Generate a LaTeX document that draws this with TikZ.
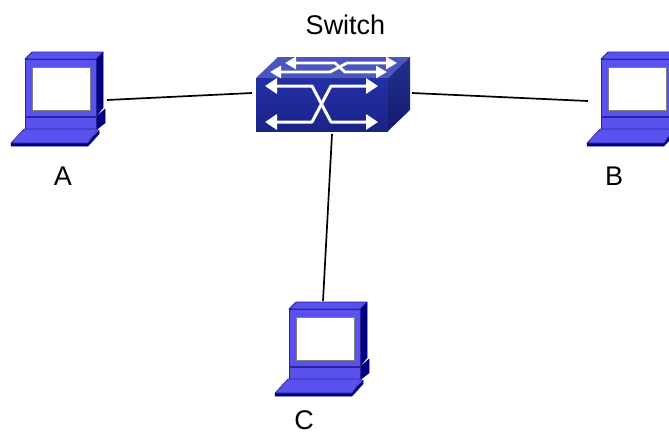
\documentclass[tikz,border=0pt]{standalone}
\usepackage{fontspec}
\setmainfont{Liberation Sans}
\usetikzlibrary{arrows.meta}
\definecolor{pcmain}{HTML}{5A52EE}
\definecolor{pcdark}{HTML}{00007F}
\definecolor{pcedge}{HTML}{2A2298}
\definecolor{swtop}{HTML}{4C57BC}
\definecolor{swfronta}{HTML}{2330A6}
\definecolor{swfrontb}{HTML}{1A2486}
\definecolor{swsidea}{HTML}{24308F}
\definecolor{swsideb}{HTML}{141C6E}
\tikzset{
  lbl/.style={inner sep=0pt,font=\fontsize{27}{27}\selectfont,text=black},
  link/.style={draw=black,line width=1.7pt},
  pcface/.style={fill=pcmain,draw=pcedge,line width=.9pt,line join=round},
  pcside/.style={fill=pcdark,draw=pcdark,line width=.5pt,line join=round},
  warrow/.style={draw=white,line width=3pt,line join=round,{Triangle[length=12pt,width=15pt]}-{Triangle[length=12pt,width=15pt]}},
  warrowt/.style={draw=white,line width=2.8pt,line join=round,{Triangle[length=11pt,width=12pt]}-{Triangle[length=11pt,width=12pt]}},
  pics/computer/.style={code={
    % monitor side and top
    \path[pcside] (71,0) -- (78,-7) -- (78,49) -- (71,57) -- cycle;
    \path[pcface] (0,0) -- (7,-7) -- (78,-7) -- (71,0) -- cycle;
    % base side
    \path[pcside] (71,58) -- (80,50) -- (80,64) -- (71,71) -- cycle;
    % monitor front
    \path[pcface] (0,0) rectangle (71,57);
    \path[fill=white,draw=gray,line width=.9pt] (7,8) rectangle (65,51);
    % base
    \path[pcface] (0,58) rectangle (71,70);
    % keyboard thickness
    \path[pcside] (-14,84) -- (63,84) -- (74,71) -- (74,75) -- (63,87) -- (-14,87) -- cycle;
    % keyboard top
    \path[fill=pcmain,draw=pcedge,line width=.6pt,line join=round] (-1,70) -- (73,70) -- (63,84) -- (-14,84) -- cycle;
  }}
}
\begin{document}
\begin{tikzpicture}[x=1pt,y=-1pt]
\useasboundingbox (0,0) rectangle (669,434);
\clip (0,0) rectangle (669,434);
\fill[white] (0,0) rectangle (669,434);

% connectors
\coordinate (a-port) at (107,100);
\coordinate (sw-w) at (252,93);
\coordinate (sw-e) at (412,93);
\coordinate (b-port) at (588,101);
\coordinate (sw-s) at (332,134);
\coordinate (c-port) at (323,301);
\draw[link] (a-port) -- (sw-w);
\draw[link] (sw-e) -- (b-port);
\draw[link] (sw-s) -- (c-port);

% computers
\pic at (25,59) {computer};
\pic at (601,59) {computer};
\pic at (289,309) {computer};

% switch
\fill[swtop] (256,78) -- (278,57) -- (410,57) -- (388,78) -- cycle;
\shade[top color=swfronta,bottom color=swfrontb] (256,78) rectangle (388,131);
\shade[top color=swsidea,bottom color=swsideb] (388,78) -- (410,57) -- (410,110) -- (388,131) -- cycle;
\draw[warrow] (265,86) -- (312,86) -- (331,122) -- (378,122);
\draw[warrow] (265,122) -- (312,122) -- (331,86) -- (378,86);
\draw[warrowt] (285,63) -- (335,63) -- (345,72) -- (387,72);
\draw[warrowt] (270,72) -- (330,72) -- (347,63) -- (397,63);

% labels
\node[lbl] (switch) at (345.5,25) {Switch};
\node[lbl] (la) at (63,176.5) {A};
\node[lbl] (lb) at (614,176.5) {B};
\node[lbl] (lc) at (304,420) {C};
\end{tikzpicture}
\end{document}
